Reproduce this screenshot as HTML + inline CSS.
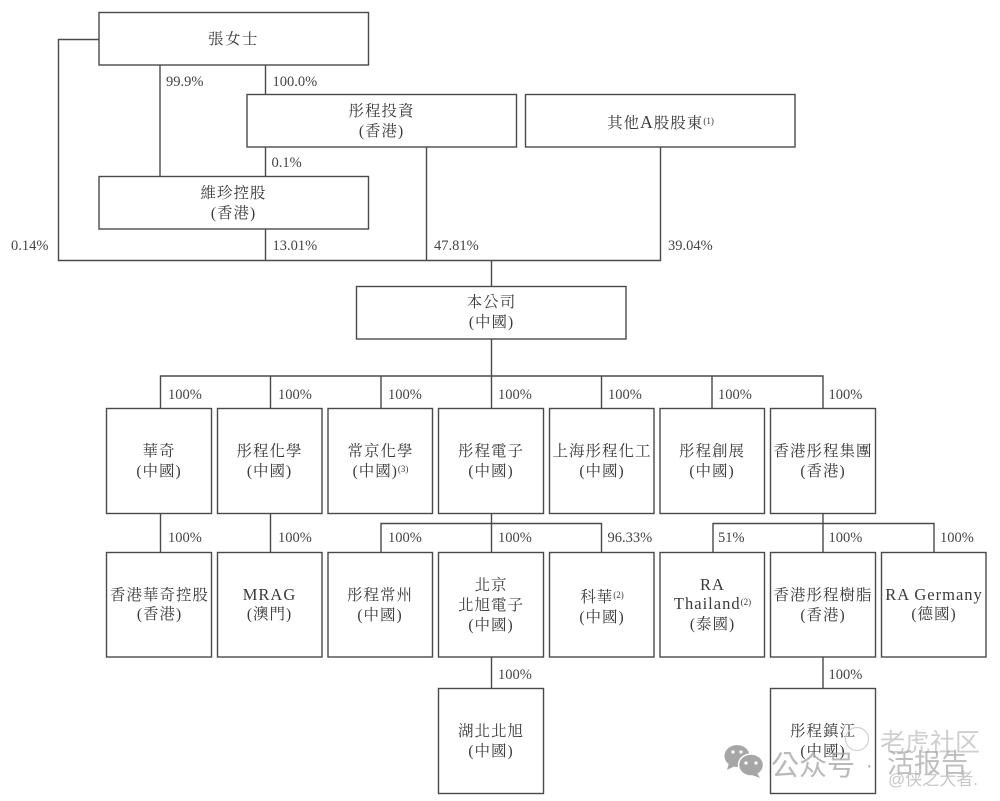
<!DOCTYPE html>
<html lang="zh-Hant">
<head>
<meta charset="utf-8">
<style>
html,body{margin:0;padding:0;background:#fff;}
svg{display:block;}
.b{fill:#fff;stroke:#4a4a4a;stroke-width:1.4;}
.l{fill:none;stroke:#4a4a4a;stroke-width:1.4;}
.t{font-family:"Liberation Serif","Noto Serif CJK TC","Noto Serif CJK SC",serif;font-size:15.5px;letter-spacing:1px;fill:#3a3a3a;text-anchor:middle;}
.e{font-size:16.5px;}
.p{font-family:"Liberation Serif",serif;font-size:14.5px;fill:#444;}
.s{font-size:9px;letter-spacing:0;}
.w{font-family:"Liberation Sans","Noto Sans CJK SC",sans-serif;}
</style>
</head>
<body>
<svg width="1000" height="801" viewBox="0 0 1000 801" xmlns="http://www.w3.org/2000/svg">
<!-- connectors -->
<path class="l" d="M99 39.5H58.5V260.5H660.5V147M160 65V177M265.5 65V95M265.5 147V177M265.5 229V260.5M426.5 147V260.5M491.5 260.5V287M491.5 339V376M160.5 408.5V376H823V408.5M270.5 376V408.5M381 376V408.5M491.5 376V408.5M601.5 376V408.5M712 376V408.5"/>
<path class="l" d="M160.5 513V553M270.5 513V553M491.5 513V553M381 553V523.5H601.5V553M823 513V553M713 553V523.5H934V553M491.5 657V689M823 657V689"/>
<!-- top boxes -->
<rect class="b" x="99" y="12.5" width="269.5" height="52.5"/>
<rect class="b" x="247" y="94.5" width="269.5" height="52.5"/>
<rect class="b" x="525.5" y="94.5" width="269.5" height="52.5"/>
<rect class="b" x="99" y="176.5" width="269.5" height="52.5"/>
<rect class="b" x="356.5" y="286.5" width="269.5" height="52.5"/>
<!-- row 1 -->
<rect class="b" x="106.5" y="408.5" width="105" height="105"/>
<rect class="b" x="217.5" y="408.5" width="104.5" height="105"/>
<rect class="b" x="328" y="408.5" width="104.5" height="105"/>
<rect class="b" x="438.5" y="408.5" width="105" height="105"/>
<rect class="b" x="549.5" y="408.5" width="104.5" height="105"/>
<rect class="b" x="660" y="408.5" width="104.5" height="105"/>
<rect class="b" x="770.5" y="408.5" width="105" height="105"/>
<!-- row 2 -->
<rect class="b" x="106.5" y="552.5" width="105" height="104.5"/>
<rect class="b" x="217.5" y="552.5" width="104.5" height="104.5"/>
<rect class="b" x="328" y="552.5" width="104.5" height="104.5"/>
<rect class="b" x="438.5" y="552.5" width="105" height="104.5"/>
<rect class="b" x="549.5" y="552.5" width="104.5" height="104.5"/>
<rect class="b" x="660" y="552.5" width="104.5" height="104.5"/>
<rect class="b" x="770.5" y="552.5" width="105" height="104.5"/>
<rect class="b" x="881.5" y="552.5" width="104.5" height="104.5"/>
<!-- row 3 -->
<rect class="b" x="438.5" y="688.5" width="105" height="105"/>
<rect class="b" x="770.5" y="688.5" width="105" height="105"/>

<!-- box labels -->
<text class="t" x="233.5" y="44" style="letter-spacing:1.5px">張女士</text>
<text class="t" x="381.5" y="116">彤程投資</text>
<text class="t" x="381.5" y="136">(香港)</text>
<text class="t" x="660.5" y="128">其他<tspan style="font-size:17.5px">A</tspan>股股東<tspan class="s" dy="-4">(1)</tspan></text>
<text class="t" x="233.5" y="198">維珍控股</text>
<text class="t" x="233.5" y="218">(香港)</text>
<text class="t" x="491.5" y="307">本公司</text>
<text class="t" x="491.5" y="327">(中國)</text>

<text class="t" x="159" y="456">華奇</text>
<text class="t" x="159" y="476">(中國)</text>
<text class="t" x="269.5" y="456">彤程化學</text>
<text class="t" x="269.5" y="476">(中國)</text>
<text class="t" x="380.5" y="456">常京化學</text>
<text class="t" x="380.5" y="476">(中國)<tspan class="s" dy="-4">(3)</tspan></text>
<text class="t" x="491" y="456">彤程電子</text>
<text class="t" x="491" y="476">(中國)</text>
<text class="t" x="602" y="456">上海彤程化工</text>
<text class="t" x="602" y="476">(中國)</text>
<text class="t" x="712" y="456">彤程創展</text>
<text class="t" x="712" y="476">(中國)</text>
<text class="t" x="823" y="456">香港彤程集團</text>
<text class="t" x="823" y="476">(香港)</text>

<text class="t" x="159.5" y="600">香港華奇控股</text>
<text class="t" x="159.5" y="619">(香港)</text>
<text class="t e" x="269.5" y="600">MRAG</text>
<text class="t" x="269.5" y="619">(澳門)</text>
<text class="t" x="380" y="600">彤程常州</text>
<text class="t" x="380" y="620">(中國)</text>
<text class="t" x="491" y="590">北京</text>
<text class="t" x="491" y="610">北旭電子</text>
<text class="t" x="491" y="630">(中國)</text>
<text class="t" x="602" y="602">科華<tspan class="s" dy="-4">(2)</tspan></text>
<text class="t" x="602" y="622">(中國)</text>
<text class="t e" x="712.5" y="590">RA</text>
<text class="t e" x="712.5" y="609">Thailand<tspan class="s" dy="-4">(2)</tspan></text>
<text class="t" x="712.5" y="629">(泰國)</text>
<text class="t" x="823" y="600">香港彤程樹脂</text>
<text class="t" x="823" y="620">(香港)</text>
<text class="t e" x="934" y="600">RA Germany</text>
<text class="t" x="934" y="619">(德國)</text>

<text class="t" x="491" y="736">湖北北旭</text>
<text class="t" x="491" y="756">(中國)</text>
<text class="t" x="823" y="736">彤程鎮江</text>
<text class="t" x="823" y="756">(中國)</text>

<!-- percentages -->
<text class="p" x="166" y="86">99.9%</text>
<text class="p" x="272.5" y="86">100.0%</text>
<text class="p" x="271.5" y="167">0.1%</text>
<text class="p" x="11" y="250">0.14%</text>
<text class="p" x="272.5" y="250">13.01%</text>
<text class="p" x="434" y="250">47.81%</text>
<text class="p" x="668" y="250">39.04%</text>

<text class="p" x="168" y="399">100%</text>
<text class="p" x="278" y="399">100%</text>
<text class="p" x="388" y="399">100%</text>
<text class="p" x="498" y="399">100%</text>
<text class="p" x="608" y="399">100%</text>
<text class="p" x="718" y="399">100%</text>
<text class="p" x="828.5" y="399">100%</text>

<text class="p" x="168" y="542">100%</text>
<text class="p" x="278" y="542">100%</text>
<text class="p" x="388" y="542">100%</text>
<text class="p" x="498" y="542">100%</text>
<text class="p" x="607.5" y="542">96.33%</text>
<text class="p" x="718" y="542">51%</text>
<text class="p" x="828.5" y="542">100%</text>
<text class="p" x="940" y="542">100%</text>

<text class="p" x="498" y="679">100%</text>
<text class="p" x="828.5" y="679">100%</text>

<!-- watermark -->
<g fill="#a6a6a6">
<ellipse cx="737" cy="756" rx="12.5" ry="11"/>
<path d="M729 763l-2 7 8-4z"/>
<ellipse cx="751" cy="765" rx="12.5" ry="11" stroke="#fff" stroke-width="1.5"/>
<path d="M757 773l3 5-8-3z"/>
</g>
<g fill="#fff">
<circle cx="733" cy="752" r="1.6"/><circle cx="741" cy="752" r="1.6"/>
<circle cx="746" cy="763" r="1.6"/><circle cx="756" cy="763" r="1.6"/>
</g>
<circle cx="857" cy="739" r="11.5" fill="none" stroke="#cfcfcf" stroke-width="1.2"/>
<text class="w" x="771" y="775" font-size="28" fill="#a8a8a8" fill-opacity=".8">公众号</text>
<text class="w" x="866" y="772" font-size="20" fill="#a8a8a8">·</text>
<text class="w" x="880" y="751" font-size="25" fill="#bdbdbd" fill-opacity=".75">老虎社区</text>
<text class="w" x="887" y="773" font-size="27" fill="#a8a8a8" fill-opacity=".75">活报告</text>
<text class="w" x="888" y="785" font-size="17" fill="#bdbdbd" fill-opacity=".85">@侠之大者.</text>
</svg>
</body>
</html>
